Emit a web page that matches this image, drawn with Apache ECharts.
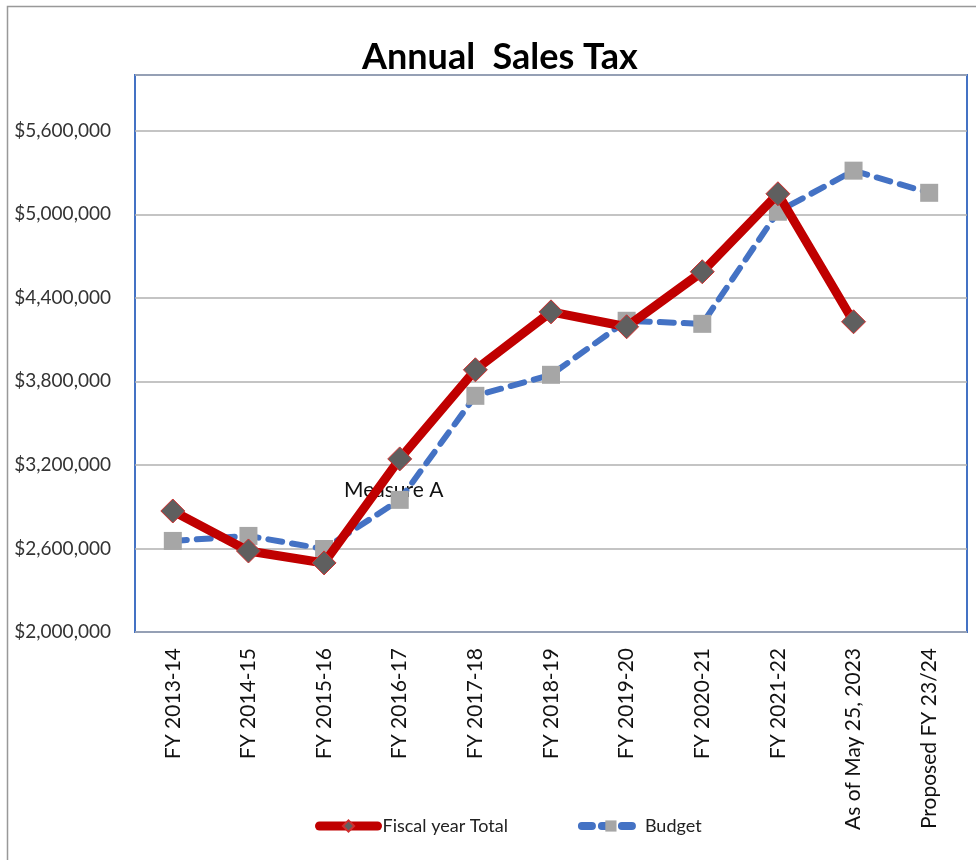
<!DOCTYPE html>
<html>
<head>
<meta charset="utf-8">
<script src="https://cdn.jsdelivr.net/npm/echarts@6/dist/echarts.min.js"></script>
<style>
  html, body { margin: 0; padding: 0; background: #fff; }
  #chart { width: 976px; height: 860px; }
</style>
</head>
<body>
<div id="chart"></div>
<script>
var categories = ['FY 2013-14', 'FY 2014-15', 'FY 2015-16', 'FY 2016-17', 'FY 2017-18',
    'FY 2018-19', 'FY 2019-20', 'FY 2020-21', 'FY 2021-22', 'As of May 25, 2023', 'Proposed FY 23/24'];
var fiscalTotal = [2869000, 2582000, 2496000, 3243000, 3883000, 4299000, 4192000, 4587000, 5147000, 4228000, null];
var budget = [2654000, 2690000, 2596000, 2949000, 3696000, 3847000, 4235000, 4213000, 5018000, 5313000, 5154000];

var font = 'Lato';

var chart = echarts.init(document.getElementById('chart'));

function money(v) {
    return '$' + v.toLocaleString('en-US');
}

var option = {
    backgroundColor: '#fff',
    animation: false,
    title: {
        text: 'Annual  Sales Tax',
        left: 357,
        top: 34,
        textStyle: { fontFamily: font, fontSize: 36, fontWeight: 'bold', color: '#000' }
    },
    legend: {
        bottom: 20,
        left: 310,
        itemGap: 70,
        itemWidth: 58,
        itemHeight: 14,
        data: [{
            name: 'Fiscal year Total',
            lineStyle: { width: 9, cap: 'round' }
        }, {
            name: 'Budget',
            lineStyle: { width: 8, type: [10, 10], cap: 'round' }
        }],
        textStyle: { fontFamily: font, fontSize: 18, color: '#222' }
    },
    grid: {
        left: 135,
        right: 9,
        top: 75,
        height: 557,
        show: true,
        borderColor: '#4472c4',
        borderWidth: 2
    },
    xAxis: {
        type: 'category',
        data: categories,
        boundaryGap: true,
        axisLine: { show: false },
        axisTick: { show: false },
        axisLabel: {
            rotate: 90,
            margin: 16,
            fontFamily: font,
            fontSize: 21,
            color: '#111'
        }
    },
    yAxis: {
        type: 'value',
        min: 2000000,
        max: 6000000,
        interval: 600000,
        axisLine: { show: false },
        axisTick: { show: false },
        splitLine: { lineStyle: { color: '#b0b0b0', width: 1.5 } },
        axisLabel: {
            showMaxLabel: false,
            margin: 24,
            fontFamily: font,
            fontSize: 19,
            color: '#333',
            formatter: money
        }
    },
    series: [{
        name: 'Fiscal year Total',
        type: 'line',
        data: fiscalTotal,
        symbol: 'diamond',
        symbolSize: 24,
        z: 3,
        lineStyle: { color: '#c00000', width: 9 },
        itemStyle: { color: '#5f5f5f', borderColor: '#d03030', borderWidth: 1 }
    }, {
        name: 'Budget',
        type: 'line',
        data: budget,
        symbol: 'rect',
        symbolSize: 18,
        z: 2,
        lineStyle: { color: '#4472c4', width: 6, type: [14, 10], cap: 'round' },
        itemStyle: { color: '#a6a6a6', borderWidth: 0 }
    }],
    graphic: [{
        type: 'text',
        left: 344,
        top: 480,
        style: { text: 'Measure A', fontFamily: font, fontSize: 21, fill: '#111' }
    }, {
        type: 'rect',
        shape: { x: 7.5, y: 6.5, width: 975, height: 860 },
        style: { fill: 'none', stroke: '#999', lineWidth: 1.5 },
        silent: true
    }]
};

chart.setOption(option);
</script>
</body>
</html>
